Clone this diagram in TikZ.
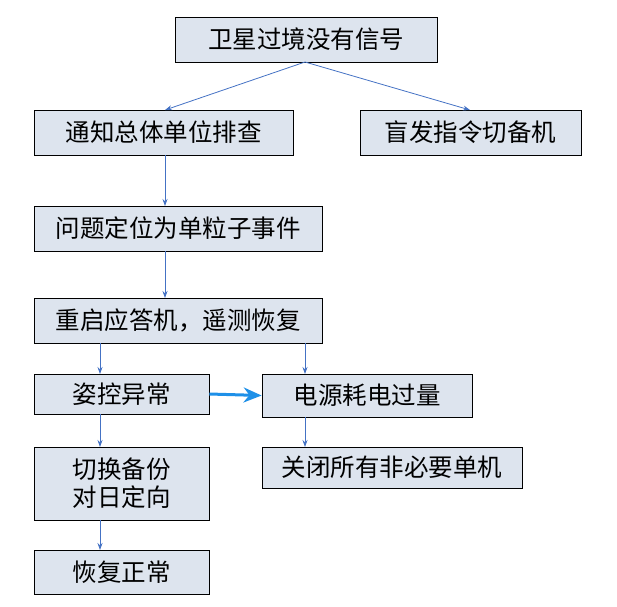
\documentclass[tikz,border=0pt]{standalone}
\usepackage{fontspec}
\setmainfont{Noto Sans CJK SC}
\usetikzlibrary{arrows.meta}
\definecolor{bx}{HTML}{DDE4EE}
\definecolor{ar}{HTML}{4472C4}
\definecolor{ar2}{HTML}{1E90E8}
\begin{document}
\begin{tikzpicture}[x=1pt,y=-1pt,
  box/.style={draw=black,fill=bx,line width=0.8pt,inner sep=0pt,font=\fontsize{24.5}{30}\selectfont},
  arr/.style={draw=ar,line width=0.8pt,-{Stealth[length=7pt,width=5pt]}}]
\useasboundingbox (0,0) rectangle (617,606);
\newcommand{\bx}[6]{\node[box,minimum width=#4-#2,minimum height=#5-#3,align=center] (#1) at ({(#2+#4)/2},{(#3+#5)/2}) {#6};}
\bx{a}{175}{17}{437}{62}{卫星过境没有信号}
\bx{b}{34}{110}{293}{155}{通知总体单位排查}
\bx{c}{360}{110}{581}{155}{盲发指令切备机}
\bx{d}{34}{206}{322}{251}{问题定位为单粒子事件}
\bx{e}{34}{298}{322}{343}{重启应答机，遥测恢复}
\bx{f}{34}{374}{209}{414}{姿控异常}
\bx{g}{262}{374}{472}{417}{电源耗电过量}
\bx{h}{34}{447}{209}{520}{切换备份\\[-2pt]对日定向}
\bx{i}{262}{447}{522}{488}{关闭所有非必要单机}
\bx{j}{34}{550}{209}{594}{恢复正常}
\coordinate (a1) at (305,62);
\draw[arr] (a1) -- (165,110);
\draw[arr] (a1) -- (470,110);
\draw[arr] (165,155) -- (165,206);
\draw[arr] (165,251) -- (165,298);
\draw[arr] (100,343) -- (100,374);
\draw[arr] (305,343) -- (305,374);
\draw[arr] (100,414) -- (100,447);
\draw[arr] (100,520) -- (100,550);
\draw[arr] (305,417) -- (305,447);
\draw[draw=ar2,line width=3pt,-{Stealth[length=18pt,width=15pt]}] (f.east) -- (g.west);
\end{tikzpicture}
\end{document}
